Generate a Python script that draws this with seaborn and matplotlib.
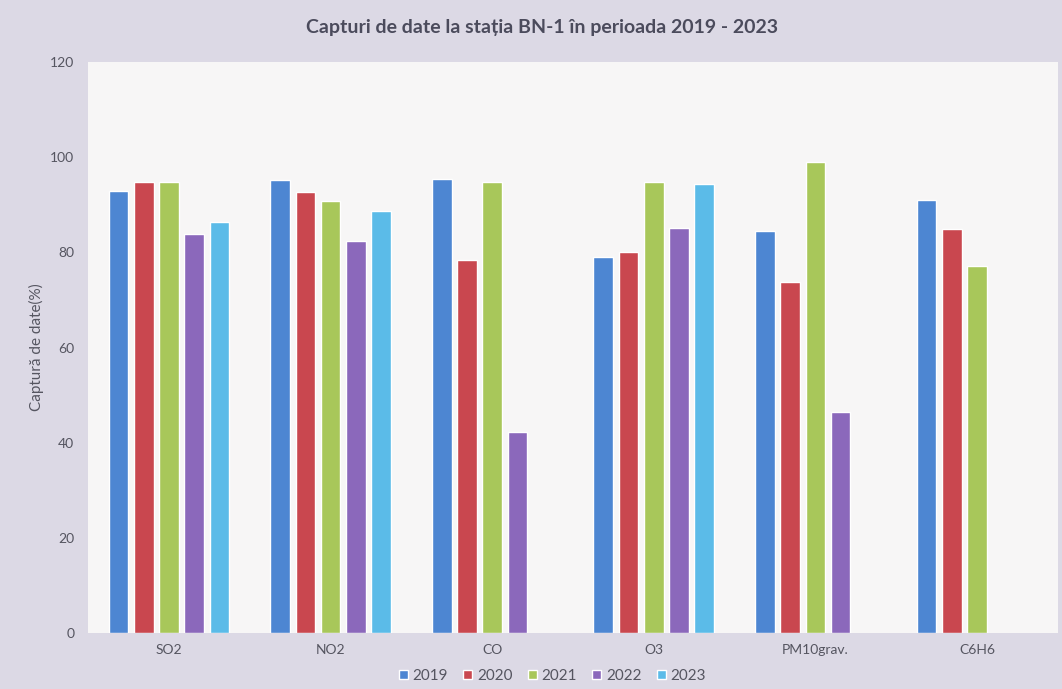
import numpy as np
import pandas as pd
import matplotlib
matplotlib.use("Agg")
import matplotlib.pyplot as plt
import seaborn as sns

categories = ['SO2', 'NO2', 'CO', 'O3', 'PM10grav.', 'C6H6']
years = ['2019', '2020', '2021', '2022', '2023']
v2019 = [92.9, 95.3, 95.5, 79.0, 84.5, 91.0]
v2020 = [94.8, 92.6, 78.4, 80.0, 73.8, 85.0]
v2021 = [94.7, 90.8, 94.8, 94.8, 99.0, 77.2]
v2022 = [83.8, 82.4, 42.2, 85.1, 46.5, np.nan]
v2023 = [86.4, 88.7, np.nan, 94.3, np.nan, np.nan]
colors = ['#4d86d2', '#c9474f', '#a8c75a', '#8b68bb', '#5bbbe8']

rows = []
for year, vals in zip(years, [v2019, v2020, v2021, v2022, v2023]):
    for cat, v in zip(categories, vals):
        rows.append({'Poluant': cat, 'An': year, 'Captura': v})
df = pd.DataFrame(rows)

sns.set_style("white")
plt.rcParams['font.family'] = ['Lato', 'DejaVu Sans']

fig = plt.figure(figsize=(10.62, 6.89), dpi=100)
fig.patch.set_facecolor('#dcd9e5')
ax = fig.add_axes([0.083, 0.081, 0.913, 0.829])
ax.set_facecolor('#f7f6f6')

sns.barplot(data=df, x='Poluant', y='Captura', hue='An', order=categories,
            hue_order=years, palette=colors, width=0.78, gap=0.22,
            saturation=1, ax=ax, legend=True)

ax.set_ylim(0, 120)
ax.set_xlim(-0.5, 5.5)
ax.set_yticks(range(0, 121, 20))
for s in ax.spines.values():
    s.set_visible(False)
ax.tick_params(axis='both', length=0, colors='#555560', labelsize=10)
ax.tick_params(axis='y', pad=10)
ax.tick_params(axis='x', pad=8)
ax.set_xlabel('')
ax.set_ylabel('Captură de date(%)', fontsize=11, color='#555560', labelpad=4)

fig.suptitle('Capturi de date la stația BN-1 în perioada 2019 - 2023',
             x=0.51, y=0.972, fontsize=14, fontweight='bold', color='#4b4b5c')

handles, labels = ax.get_legend_handles_labels()
ax.get_legend().remove()
fig.legend(handles, labels, loc='center', bbox_to_anchor=(0.52, 0.019), ncol=5,
           frameon=False, fontsize=11, handlelength=0.6, handleheight=0.6,
           handletextpad=0.3, columnspacing=1.0, labelcolor='#555560')

plt.savefig('out.png', dpi=100, facecolor=fig.get_facecolor())
